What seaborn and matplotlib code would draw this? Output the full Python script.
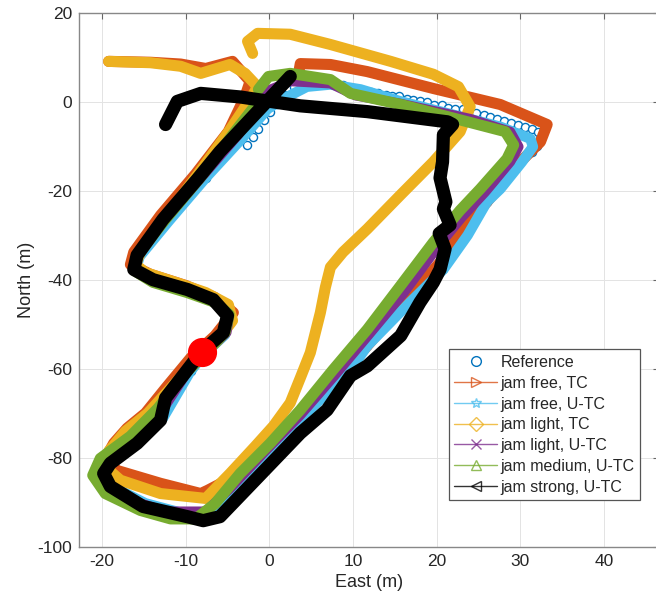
import matplotlib
matplotlib.use('Agg')
import matplotlib.pyplot as plt
from matplotlib.lines import Line2D
import seaborn as sns

# trajectories (East, North) in metres
ref_e = [2.2, 3.0, 3.8, 4.7, 5.5, 6.3, 7.2, 8.0, 8.8, 9.7, 10.5, 11.4, 12.2, 13.0, 13.9,
         14.7, 15.5, 16.4, 17.2, 18.0, 18.9, 19.7, 20.6, 21.4, 22.2, 23.1, 23.9, 24.7,
         25.6, 26.4, 27.2, 28.1, 28.9, 29.7, 30.6, 31.4, 32.1, 32.4, 32.0, 31.4,
         30.0, 26.0, 20.8, 11.7, 2.5, -4.7, -9.4, -19.0, -20.0, -15.4, -9.4, -4.8,
         -9.7, -16.0, -12.2, -7.6, -2.7, -2.0, -1.3, -0.6, 0.1, 0.9, 1.6]
ref_n = [3.1, 3.5, 4.0, 4.5, 4.7, 4.7, 4.7, 4.2, 3.8, 3.3, 2.9, 2.6, 2.4, 2.0, 1.7,
         1.5, 1.3, 0.8, 0.6, 0.2, 0.0, -0.5, -0.7, -1.2, -1.4, -1.6, -2.1, -2.3,
         -2.8, -3.2, -3.7, -4.1, -4.6, -5.0, -5.5, -5.9, -6.6, -8.2, -9.8, -11.1,
         -13.4, -22.4, -37.6, -54.8, -73.7, -88.0, -92.9, -86.2, -83.0, -76.0, -60.4, -48.5,
         -42.6, -37.8, -26.7, -17.0, -9.5, -7.7, -5.9, -4.0, -2.2, -0.3, 1.5]

free_tc_e = [3.5, 3.7, 7.3, 11.7, 19.6, 27.6, 33.2, 32.4, 30.0, 26.0, 22.5, 20.4, 16.2,
             11.5, 6.1, 0.7, -3.5, -7.4, -8.2, -13.0, -18.2, -19.6, -18.6, -17.0, -14.8,
             -12.4, -9.4, -6.5, -4.3, -6.5, -10.0, -14.2, -16.6, -16.2, -13.0, -8.8, -4.9,
             -2.9, -2.3, -4.4, -7.6, -10.6, -14.2, -19.2]
free_tc_n = [6.5, 8.7, 8.5, 6.9, 3.1, -0.5, -5.0, -8.9, -13.4, -22.4, -29.9, -36.0, -45.0,
             -55.2, -66.5, -77.4, -83.5, -87.3, -88.0, -85.7, -82.8, -80.1, -76.7, -73.3, -69.9,
             -64.3, -57.5, -52.5, -47.3, -43.9, -41.2, -38.7, -36.5, -33.7, -25.4, -16.1, -6.6,
             1.3, 4.7, 9.2, 7.6, 8.6, 9.0, 9.2]

free_utc_e = [1.7, 4.5, 7.3, 10.9, 15.7, 22.8, 27.6, 31.2, 31.5, 30.2, 27.6, 26.0, 23.7,
              20.8, 16.8, 11.7, 9.7, 5.7, 2.5, -1.1, -4.7, -6.5, -9.4, -14.8, -19.0, -20.0,
              -18.8, -15.4, -12.7, -9.4, -7.6, -5.3, -4.8, -6.6, -9.7, -13.9, -16.0, -15.5,
              -12.0, -7.6, -3.2, -0.2, 1.7]
free_utc_n = [0.8, 3.5, 4.0, 2.9, 0.2, -3.2, -5.5, -8.2, -10.0, -13.4, -19.5, -22.4, -29.9,
              -37.6, -45.0, -54.8, -60.2, -67.6, -73.7, -81.2, -88.0, -91.4, -92.9, -90.2, -86.2, -83.0,
              -80.1, -76.0, -71.0, -60.4, -56.3, -52.3, -48.5, -44.8, -42.6, -40.3, -37.8, -34.7,
              -26.7, -17.0, -8.0, -1.5, 0.8]

light_tc_e = [-2.0, -2.6, -1.4, 2.5, 7.3, 14.5, 19.6, 22.6, 24.0, 22.8, 19.6, 15.7, 11.7,
              8.8, 7.3, 6.7, 6.1, 4.9, 3.7, 2.5, 0.5, -1.7, -4.7, -7.6, -13.0, -17.8, -19.8,
              -19.2, -17.2, -14.5, -11.8, -8.8, -6.1, -4.4, -4.9, -7.6, -11.2, -14.8, -16.0,
              -15.4, -12.4, -8.5, -4.7, -2.3, -1.4, -2.9, -4.7, -8.2, -10.6, -14.2, -19.2]
light_tc_n = [11.0, 13.7, 15.5, 15.3, 13.0, 9.2, 6.3, 3.5, -1.0, -6.6, -13.4, -20.8, -28.5,
              -33.7, -37.1, -41.6, -47.3, -56.3, -62.0, -67.6, -72.8, -77.4, -83.5, -89.1, -88.0, -85.0, -81.7,
              -78.5, -74.0, -69.9, -64.3, -58.0, -53.4, -49.1, -45.5, -42.8, -40.5, -38.3, -36.5,
              -33.7, -25.9, -16.1, -6.2, 0.6, 3.5, 6.5, 8.5, 6.5, 8.1, 8.9, 9.2]

light_utc_e = [-0.5, 2.5, 7.3, 10.3, 15.7, 24.0, 28.8, 29.8, 28.8, 25.8, 23.0, 20.1, 16.1,
               11.8, 7.8, 3.7, -0.5, -4.7, -7.6, -12.4, -17.2, -20.5, -19.2, -15.4, -13.0,
               -9.7, -7.6, -5.1, -4.8, -6.7, -9.9, -14.0, -16.1, -15.7, -12.4, -8.2, -3.7,
               -0.8, -0.5]
light_utc_n = [2.4, 4.7, 4.2, 1.5, -0.3, -3.7, -6.6, -10.0, -13.4, -20.2, -25.9, -32.6, -42.8,
               -52.5, -61.5, -70.4, -78.5, -86.9, -92.0, -92.0, -89.1, -83.5, -79.4, -74.4, -69.9,
               -60.4, -56.3, -51.8, -48.0, -44.6, -42.3, -40.1, -37.6, -34.4, -26.3, -17.1, -7.3,
               0.2, 2.4]

medium_utc_e = [-1.3, -0.1, 2.5, 7.3, 9.7, 15.7, 23.7, 28.2, 29.2, 28.4, 25.2, 22.8, 19.6,
                15.7, 11.7, 7.6, 3.7, 0.1, -3.5, -6.5, -8.8, -11.8, -15.4, -19.6, -21.1, -20.2,
                -16.6, -13.3, -10.0, -7.6, -5.3, -4.8, -6.5, -9.8, -13.9, -16.2, -15.8, -12.4,
                -8.2, -4.1, -1.3]
medium_utc_n = [2.9, 5.8, 6.5, 5.1, 2.0, -0.5, -4.4, -6.6, -9.6, -12.7, -19.5, -24.3, -31.5,
                -41.2, -51.1, -60.2, -69.2, -76.7, -83.5, -90.3, -93.7, -93.7, -91.8, -88.0, -83.9, -80.1,
                -75.1, -68.8, -60.9, -56.3, -51.8, -47.7, -45.0, -42.8, -40.5, -37.8, -34.4, -26.3,
                -16.8, -6.6, 0.2]

strong_utc_e = [2.5, -5.9, -8.6, -12.7, -15.8, -16.2, -13.9, -9.8, -6.7, -5.0, -5.5, -8.2,
                -9.8, -12.4, -13.0, -15.8, -19.0, -19.8, -19.0, -15.1, -9.8, -7.9, -5.9, 3.7,
                6.9, 9.7, 11.7, 15.7, 18.0, 19.6, 20.4, 21.0, 20.3, 21.6, 20.8, 21.1, 20.4, 20.7,
                20.8, 21.9, 21.3, 11.7, 3.7, -3.5, -8.2, -11.0, -12.4]
strong_utc_n = [5.8, -11.1, -17.3, -26.3, -34.4, -37.6, -39.9, -42.1, -44.4, -48.0, -51.8, -56.3,
                -60.2, -66.5, -71.5, -76.7, -81.2, -83.5, -86.4, -90.9, -93.2, -94.1, -93.2, -74.4,
                -69.2, -61.5, -59.3, -52.5, -45.0, -40.5, -37.6, -33.0, -29.5, -27.6, -24.0, -22.4, -17.0, -13.4,
                -7.3, -5.0, -4.4, -2.1, -0.8, 1.2, 2.0, 0.2, -5.0]

start_e = [-8.1]
start_n = [-56.2]

labels = ['Reference', 'jam free, TC', 'jam free, U-TC', 'jam light, TC',
          'jam light, U-TC', 'jam medium, U-TC', 'jam strong, U-TC']
colors = ['#0072BD', '#D95319', '#4DBEEE', '#EDB120', '#7E2F8E', '#77AC30', 'black']
markers = ['o', '>', '*', 'D', 'x', '^', '<']

sns.set_theme(style='whitegrid')
plt.rcParams['font.family'] = ['Liberation Sans', 'DejaVu Sans']
plt.rcParams['axes.unicode_minus'] = False

fig = plt.figure(figsize=(6.56, 6.07), dpi=100)
ax = fig.add_axes([0.121, 0.099, 0.884, 0.879])

# reference samples drawn as open circles underneath everything
ax.scatter(ref_e, ref_n, s=34, facecolors='white', edgecolors=colors[0],
           linewidths=1.0, zorder=2)

tracks = [(free_tc_e, free_tc_n, 8.0), (free_utc_e, free_utc_n, 7.5),
          (light_tc_e, light_tc_n, 8.0), (light_utc_e, light_utc_n, 7.0),
          (medium_utc_e, medium_utc_n, 8.0), (strong_utc_e, strong_utc_n, 9.5)]
for i, (e, n, lw) in enumerate(tracks):
    sns.lineplot(x=e, y=n, sort=False, estimator=None, color=colors[i + 1],
                 linewidth=lw, ax=ax, zorder=3 + i,
                 solid_capstyle='round', solid_joinstyle='round')

ax.plot(start_e, start_n, 'o', color='red', markersize=20, zorder=20)

ax.set_xlim(-22.7, 46.6)
ax.set_ylim(-100, 20)
ax.set_xticks(range(-20, 41, 10))
ax.set_yticks(range(-100, 21, 20))
ax.set_xlabel('East (m)', fontsize=13, color='#262626', labelpad=4)
ax.set_ylabel('North (m)', fontsize=13, color='#262626', labelpad=2)
ax.tick_params(direction='in', length=4, width=0.8, color='#666666',
               labelsize=12.5, labelcolor='#262626', top=True, right=True, pad=5)
ax.grid(True, color='#e3e3e3', linewidth=0.7)
ax.set_facecolor('white')
for s in ax.spines.values():
    s.set_color('#888888')
    s.set_linewidth(1.0)

handles = [Line2D([], [], linestyle='none', marker='o', color=colors[0],
                  markerfacecolor='none', markersize=7)]
for c, m in zip(colors[1:], markers[1:]):
    handles.append(Line2D([], [], color=c, linewidth=1.0, marker=m, markersize=7,
                          markerfacecolor='none', markeredgecolor=c, alpha=0.8))
leg = fig.legend(handles, labels, loc='lower left', bbox_to_anchor=(0.684, 0.176),
                 borderaxespad=0, fontsize=11.5, handlelength=2.7, handletextpad=0.2,
                 borderpad=0.35, labelspacing=0.36, fancybox=False, framealpha=1,
                 edgecolor='#555555')
leg.get_frame().set_linewidth(0.9)

fig.savefig('out.png', dpi=100)
